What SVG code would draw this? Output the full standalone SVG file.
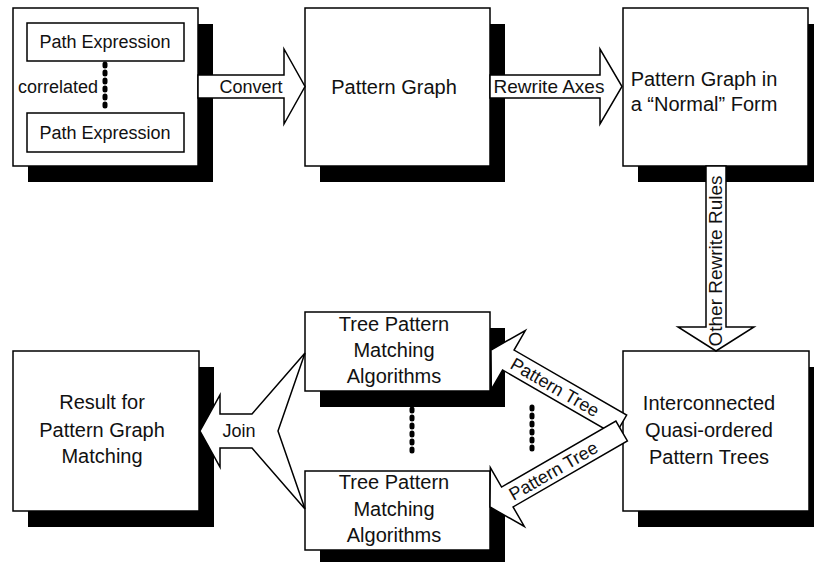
<svg xmlns="http://www.w3.org/2000/svg" width="814" height="562" viewBox="0 0 814 562">
  <style>
    .shadow { fill: #000; }
    .box { fill: #fff; stroke: #000; stroke-width: 1.5; }
    .arrow { fill: #fff; stroke: #000; stroke-width: 1.5; stroke-linejoin: miter; }
    .dots { fill: none; stroke: #000; stroke-width: 5; stroke-linecap: round; stroke-dasharray: 2 6; }
    text { font-family: "Liberation Sans", Arial, Helvetica, sans-serif; fill: #111; }
    .lbl { font-size: 20px; text-anchor: middle; }
    .small { font-size: 18px; text-anchor: middle; }
    .alabel { font-size: 18px; text-anchor: middle; }
  </style>

  <!-- drop shadows behind every box -->
  <g id="shadows">
    <rect class="shadow" x="28" y="24" width="185" height="158"/>
    <rect class="shadow" x="320" y="24" width="185" height="158"/>
    <rect class="shadow" x="638" y="24" width="185" height="158"/>
    <rect class="shadow" x="638" y="367" width="186" height="160"/>
    <rect class="shadow" x="28" y="367" width="186" height="160"/>
    <rect class="shadow" x="320" y="328" width="185" height="79"/>
    <rect class="shadow" x="320" y="487" width="185" height="79"/>
  </g>

  <!-- nodes -->
  <g id="node-path-expressions">
    <rect class="box" x="13" y="8" width="185" height="158"/>
    <g id="node-path-expression-1">
      <rect class="box" x="27" y="23" width="157" height="38"/>
      <text class="small" x="105" y="48">Path Expression</text>
    </g>
    <g id="node-path-expression-2">
      <rect class="box" x="27" y="113" width="157" height="39"/>
      <text class="small" x="105" y="139">Path Expression</text>
    </g>
  </g>

  <g id="node-pattern-graph">
    <rect class="box" x="305" y="8" width="185" height="158"/>
    <text class="lbl" x="394" y="94">Pattern Graph</text>
  </g>

  <g id="node-normal-form">
    <rect class="box" x="623" y="8" width="185" height="158"/>
    <text class="lbl" x="704" y="86">Pattern Graph in</text>
    <text class="lbl" x="704" y="111">a “Normal” Form</text>
  </g>

  <g id="node-pattern-trees">
    <rect class="box" x="623" y="351" width="186" height="160"/>
    <text class="lbl" x="709" y="410">Interconnected</text>
    <text class="lbl" x="709" y="437">Quasi-ordered</text>
    <text class="lbl" x="709" y="464">Pattern Trees</text>
  </g>

  <g id="node-result">
    <rect class="box" x="13" y="351" width="186" height="160"/>
    <text class="lbl" x="102" y="409">Result for</text>
    <text class="lbl" x="102" y="437">Pattern Graph</text>
    <text class="lbl" x="102" y="463">Matching</text>
  </g>

  <g id="node-tree-matching-1">
    <rect class="box" x="305" y="312" width="185" height="79"/>
    <text class="lbl" x="394" y="331">Tree Pattern</text>
    <text class="lbl" x="394" y="357">Matching</text>
    <text class="lbl" x="394" y="383">Algorithms</text>
  </g>

  <g id="node-tree-matching-2">
    <rect class="box" x="305" y="471" width="185" height="79"/>
    <text class="lbl" x="394" y="489">Tree Pattern</text>
    <text class="lbl" x="394" y="516">Matching</text>
    <text class="lbl" x="394" y="542">Algorithms</text>
  </g>

  <!-- connectors: block arrows and dotted links -->
  <g id="connectors">
    <line class="dots" x1="105" y1="64" x2="105" y2="111"/>
    <text class="alabel" x="58" y="93">correlated</text>

    <polygon class="arrow" points="198,75 284,75 284,49 305,86.5 284,124 284,98 198,98"/>
    <text class="alabel" x="251" y="93">Convert</text>

    <polygon class="arrow" points="490,75 600,75 600,49 622,86.5 600,124 600,98 490,98"/>
    <text class="alabel" x="549" y="93" style="font-size:19px">Rewrite Axes</text>

    <polygon class="arrow" points="706,166 726,166 726,327 754,327 716,351 678,327 706,327"/>
    <text class="alabel" x="721.5" y="261" style="font-size:19px" transform="rotate(-90 721.5 261)">Other Rewrite Rules</text>

    <g transform="translate(491 350) rotate(30)">
      <polygon class="arrow" points="0,0 20,-34 20,-11.5 150,-11.5 150,11.5 20,11.5 20,34"/>
      <text class="alabel" x="74" y="6.5">Pattern Tree</text>
    </g>

    <g transform="translate(490 507) rotate(-30)">
      <polygon class="arrow" points="0,0 20,-34 20,-11.5 152,-11.5 152,11.5 20,11.5 20,34"/>
      <text class="alabel" x="73" y="6.5">Pattern Tree</text>
    </g>

    <polygon class="arrow" points="200,431 220,395 220,414 252,414 305,353 278,431 305,509 252,448 220,448 220,467"/>
    <text class="alabel" x="239" y="437">Join</text>

    <line class="dots" x1="412" y1="409" x2="412" y2="455"/>
    <line class="dots" x1="532" y1="407" x2="532" y2="455"/>
  </g>
</svg>
